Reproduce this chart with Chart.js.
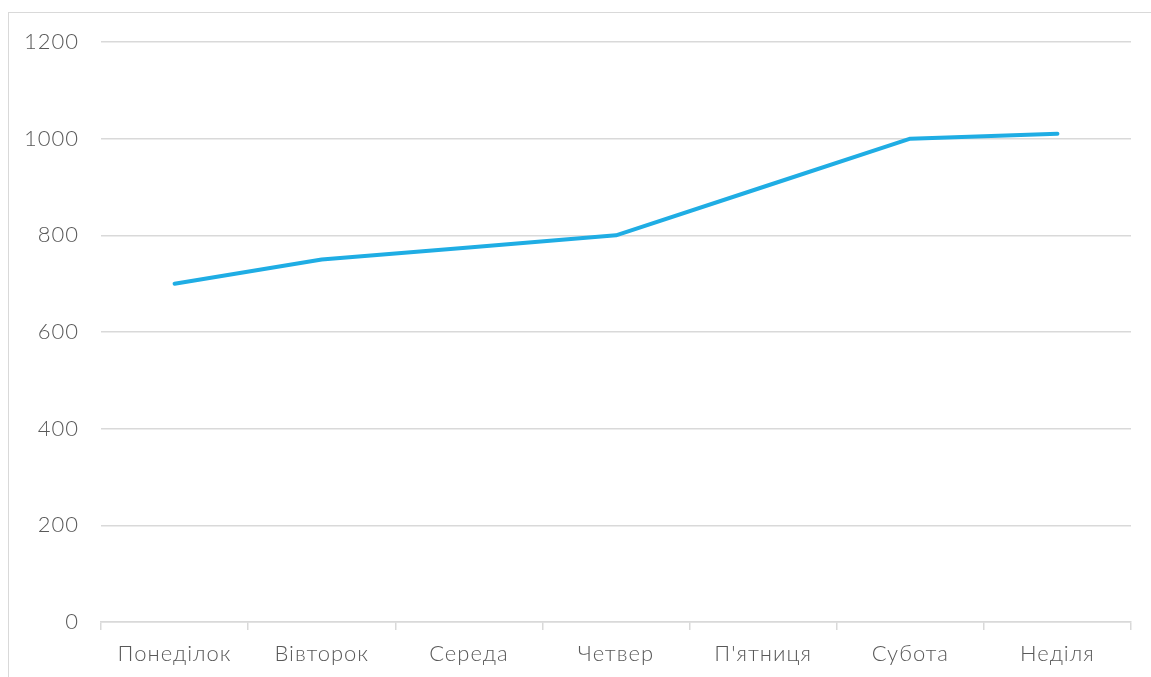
<!DOCTYPE html>
<html>
<head>
<meta charset="utf-8">
<script src="https://cdn.jsdelivr.net/npm/chart.js"></script>
<style>
  html, body { margin: 0; padding: 0; background: #fff; overflow: hidden; }
  #wrap { position: relative; width: 1151px; height: 677px; }
  #frame { position: absolute; left: 8px; top: 12px; width: 1200px; height: 700px;
           border: 1.5px solid #d9d9d9; box-sizing: border-box; }
  canvas { position: absolute; left: 0; top: 0; }
</style>
</head>
<body>
<div id="wrap">
  <div id="frame"></div>
  <canvas id="grafik" width="1151" height="677"></canvas>
</div>
<script>
// дні тижня та значення
const dni = ['Понеділок', 'Вівторок', 'Середа', 'Четвер', "П'ятниця", 'Субота', 'Неділя'];
const znachennya = [700, 750, 775, 800, 900, 1000, 1010];
const yTicks = [0, 200, 400, 600, 800, 1000, 1200];

const siryi = '#595959';
const liniya = '#d9d9d9';
const shryft = { family: 'Lato', size: 22, weight: 300 };

// трохи ширший текст, як у оригіналі
const rozryadka = {
  id: 'rozryadka',
  beforeDraw: function (chart) { chart.ctx.letterSpacing = '1px'; }
};

const ctx = document.getElementById('grafik');

new Chart(ctx, {
  type: 'line',
  data: {
    labels: dni,
    datasets: [{
      data: znachennya,
      borderColor: '#1fade4',
      borderWidth: 4,
      borderCapStyle: 'round',
      borderJoinStyle: 'round',
      pointRadius: 0,
      tension: 0,
      fill: false
    }]
  },
  plugins: [rozryadka],
  options: {
    responsive: false,
    animation: false,
    layout: { padding: { top: 42, right: 20, left: 0, bottom: 0 } },
    plugins: { legend: { display: false }, tooltip: { enabled: false } },
    scales: {
      x: {
        offset: true,
        grid: { offset: true, drawOnChartArea: false, drawTicks: true, tickLength: 8, color: liniya, lineWidth: 1.5 },
        border: { display: true, color: liniya, width: 1.5 },
        ticks: { color: siryi, font: shryft, padding: 11, maxRotation: 0 },
        afterFit: function (s) { s.height = 55; }
      },
      y: {
        min: 0,
        max: 1200,
        afterBuildTicks: function (s) { s.ticks = yTicks.map(v => ({ value: v })); },
        grid: { drawTicks: false, color: liniya, lineWidth: 1.5 },
        border: { display: false },
        ticks: { color: siryi, font: shryft, padding: 22, callback: v => String(v) },
        afterFit: function (s) { s.width = 101; }
      }
    }
  }
});
</script>
</body>
</html>
